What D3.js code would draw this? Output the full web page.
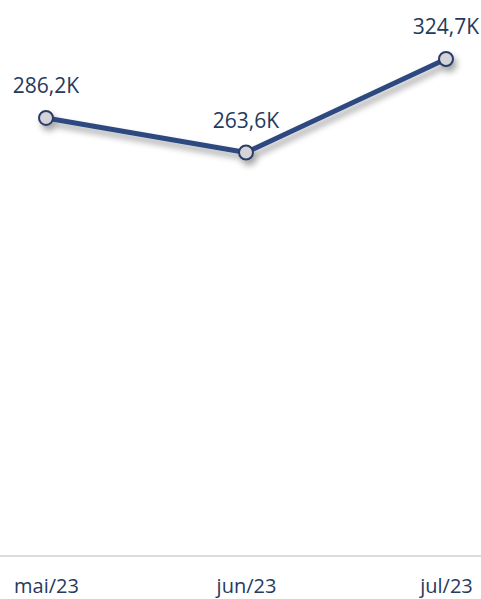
<!DOCTYPE html>
<html>
<head>
<meta charset="utf-8">
<script src="https://cdn.jsdelivr.net/npm/d3@7"></script>
<style>
  html, body { margin: 0; padding: 0; background: #ffffff; }
  svg { display: block; }
  text { font-family: "Open Sans", "Noto Sans", sans-serif; }
</style>
</head>
<body>
<svg id="chart" width="481" height="599"></svg>
<script>
// Monthly totals, in thousands
const months = ["mai/23", "jun/23", "jul/23"];
const values = [286.2, 263.6, 324.7];
const valueLabels = ["286,2K", "263,6K", "324,7K"];

const width = 481, height = 599;
const svg = d3.select("#chart");

const x = d3.scalePoint().domain(months).range([46, 446]);
const y = d3.scaleLinear().domain([0, d3.max(values)]).range([556, 59]);

// Soft drop shadow under the line and markers
const defs = svg.append("defs");
const f = defs.append("filter").attr("id", "shadow")
  .attr("x", "-20%").attr("y", "-50%").attr("width", "140%").attr("height", "200%");
f.append("feDropShadow").attr("dx", 3).attr("dy", 5).attr("stdDeviation", 3)
  .attr("flood-color", "#000").attr("flood-opacity", 0.35);

// Baseline axis
const xAxis = d3.axisBottom(x).tickSize(0).tickPadding(0);
const gx = svg.append("g").attr("transform", `translate(0,${y(0)})`).call(xAxis);
gx.select(".domain").remove();
gx.append("line").attr("x1", 0).attr("x2", width).attr("y1", 0).attr("y2", 0)
  .attr("stroke", "#dcdcdc").attr("stroke-width", 2);
gx.selectAll(".tick text")
  .attr("y", 37).attr("dy", 0)
  .attr("fill", "#253a5e")
  .style("font-size", "20px");

const data = months.map((m, i) => ({ m, v: values[i], label: valueLabels[i] }));

const g = svg.append("g").attr("filter", "url(#shadow)");
g.append("path")
  .datum(data)
  .attr("fill", "none")
  .attr("stroke", "#2d4a80")
  .attr("stroke-width", 5)
  .attr("stroke-linejoin", "round")
  .attr("d", d3.line().x(d => x(d.m)).y(d => y(d.v)));

g.selectAll("circle")
  .data(data)
  .join("circle")
  .attr("cx", d => x(d.m))
  .attr("cy", d => y(d.v))
  .attr("r", 7)
  .attr("fill", "#d4d4d8")
  .attr("stroke", "#2b3c68")
  .attr("stroke-width", 2);

svg.selectAll("text.val")
  .data(data)
  .join("text")
  .attr("class", "val")
  .attr("x", d => x(d.m))
  .attr("y", d => y(d.v) - 25)
  .attr("text-anchor", "middle")
  .attr("fill", "#253a5e")
  .style("font-size", "21px")
  .text(d => d.label);
</script>
</body>
</html>
